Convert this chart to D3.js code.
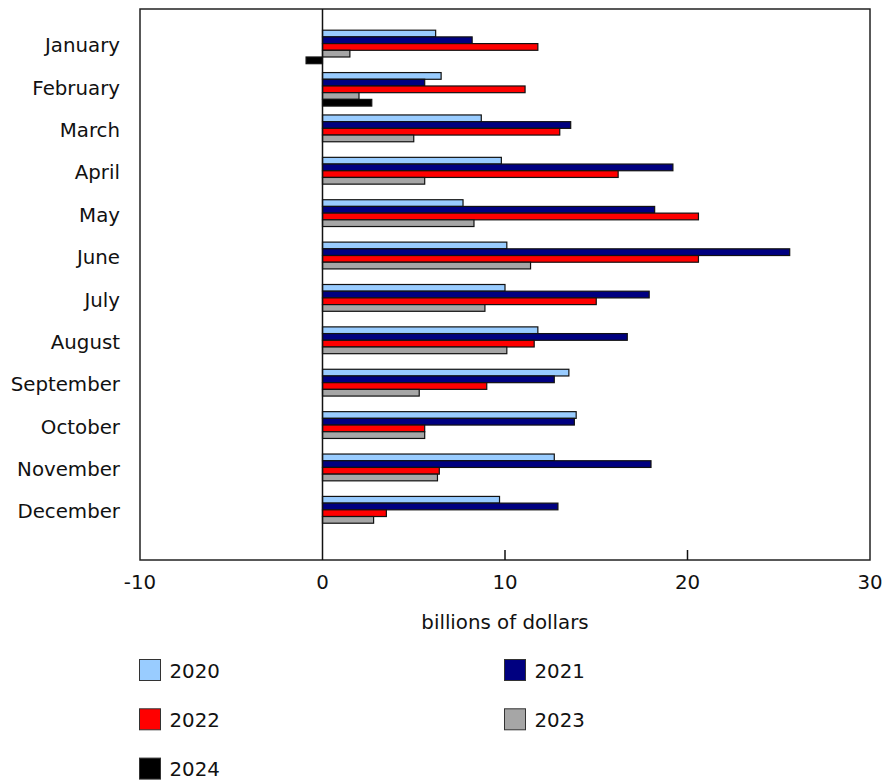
<!DOCTYPE html>
<html>
<head>
<meta charset="utf-8">
<script src="https://cdn.jsdelivr.net/npm/d3@7"></script>
<style>
  body { margin: 0; background: #fff; }
  text { font-family: "DejaVu Sans", Verdana, sans-serif; fill: #111; }
</style>
</head>
<body>
<div id="chart"></div>
<script>
const months = ["January", "February", "March", "April", "May", "June",
  "July", "August", "September", "October", "November", "December"];
const years = ["2020", "2021", "2022", "2023", "2024"];
const colors = ["#99ccff", "#000080", "#ff0000", "#a6a6a6", "#000000"];

// billions of dollars
const v2020 = [6.2, 6.5, 8.7, 9.8, 7.7, 10.1, 10.0, 11.8, 13.5, 13.9, 12.7, 9.7];
const v2021 = [8.2, 5.6, 13.6, 19.2, 18.2, 25.6, 17.9, 16.7, 12.7, 13.8, 18.0, 12.9];
const v2022 = [11.8, 11.1, 13.0, 16.2, 20.6, 20.6, 15.0, 11.6, 9.0, 5.6, 6.4, 3.5];
const v2023 = [1.5, 2.0, 5.0, 5.6, 8.3, 11.4, 8.9, 10.1, 5.3, 5.6, 6.3, 2.8];
const v2024 = [-0.9, 2.7, null, null, null, null, null, null, null, null, null, null];
const seriesValues = [v2020, v2021, v2022, v2023, v2024];
const xTicks = [-10, 0, 10, 20, 30];

const width = 884, height = 780;
const plot = { left: 140, right: 870, top: 9, bottom: 560 };
const fontSize = "19.8px";

const svg = d3.select("#chart").append("svg")
  .attr("width", width).attr("height", height);

const x = d3.scaleLinear().domain([-10, 30]).range([plot.left, plot.right]);
const y = d3.scaleBand().domain(months).range([plot.top, plot.bottom])
  .paddingInner(0).paddingOuter(0.5);
const yInner = d3.scaleBand().domain(years).range([0, 33.5]);

// bars
const data = [];
months.forEach((m, i) => {
  years.forEach((yr, j) => {
    const v = seriesValues[j][i];
    if (v !== null) data.push({ month: m, year: yr, value: v, color: colors[j] });
  });
});

svg.append("g").selectAll("rect").data(data).join("rect")
  .attr("x", (d) => x(Math.min(0, d.value)))
  .attr("y", (d) => y(d.month) + yInner(d.year))
  .attr("width", (d) => Math.abs(x(d.value) - x(0)))
  .attr("height", yInner.bandwidth())
  .attr("fill", (d) => d.color)
  .attr("stroke", "#111")
  .attr("stroke-width", 1.2);

// frame
svg.append("rect")
  .attr("x", plot.left).attr("y", plot.top)
  .attr("width", plot.right - plot.left).attr("height", plot.bottom - plot.top)
  .attr("fill", "none").attr("stroke", "#222").attr("stroke-width", 1.5);

// zero line
svg.append("line")
  .attr("x1", x(0)).attr("x2", x(0)).attr("y1", plot.top).attr("y2", plot.bottom)
  .attr("stroke", "#111").attr("stroke-width", 1.5);

// x ticks (inward) and labels
const tickG = svg.append("g");
tickG.selectAll("line").data(xTicks.filter((t) => t > -10 && t < 30 && t !== 0)).join("line")
  .attr("x1", (d) => x(d)).attr("x2", (d) => x(d))
  .attr("y1", plot.bottom).attr("y2", plot.bottom - 10)
  .attr("stroke", "#111").attr("stroke-width", 1.5);
tickG.selectAll("text").data(xTicks).join("text")
  .attr("x", (d) => x(d)).attr("y", 589)
  .attr("text-anchor", "middle")
  .style("font-size", fontSize)
  .text((d) => d);

svg.append("text")
  .attr("x", (plot.left + plot.right) / 2).attr("y", 629)
  .attr("text-anchor", "middle")
  .style("font-size", fontSize)
  .text("billions of dollars");

// month labels
svg.append("g").selectAll("text").data(months).join("text")
  .attr("x", 120).attr("y", (d) => y(d) + 22)
  .attr("text-anchor", "end")
  .style("font-size", fontSize)
  .text((d) => d);

// legend
const legend = svg.append("g");
const legendItems = legend.selectAll("g").data(years).join("g")
  .attr("transform", (d, i) => `translate(${i % 2 === 0 ? 139.5 : 504.5}, ${659.5 + Math.floor(i / 2) * 49.3})`);
legendItems.append("rect")
  .attr("width", 21).attr("height", 21)
  .attr("fill", (d, i) => colors[i])
  .attr("stroke", "#333").attr("stroke-width", 1);
legendItems.append("text")
  .attr("x", 30).attr("y", 18)
  .style("font-size", fontSize)
  .text((d) => d);
</script>
</body>
</html>
